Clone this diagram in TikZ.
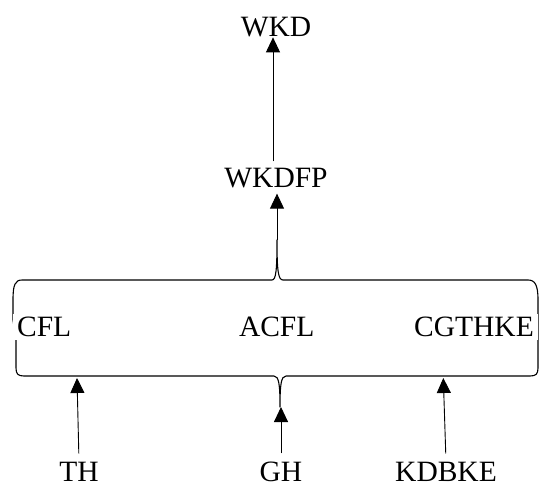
\documentclass[tikz,border=0pt]{standalone}
\usepackage{fontspec}
\setmainfont{Liberation Serif}
\usetikzlibrary{arrows.meta}
\tikzset{
  lbl/.style={font=\fontsize{29.5}{35}\selectfont, inner sep=0pt, anchor=base},
  midlbl/.style={lbl, fill=white, inner xsep=4pt, inner ysep=3pt},
  arr/.style={line width=0.9pt, -{Triangle[length=15pt,width=14pt]}},
  bracket/.style={line width=1.1pt, line join=round}
}
\begin{document}
\begin{tikzpicture}[x=1pt,y=-1pt]
\useasboundingbox (0,0) rectangle (540,489);
% bracket frame
\coordinate (toptip) at (277,240);
\coordinate (bottip) at (280,407);
\draw[bracket] (22,280) -- (272,280) .. controls (276,280) and (277,270) .. (toptip)
  .. controls (277,270) and (278,280) .. (283,280) -- (528,280)
  .. controls (535,280) and (538,285) .. (538,300) -- (538,368)
  .. controls (538,374) and (536,376) .. (530,376) -- (286,376)
  .. controls (281,376) and (280,385) .. (bottip)
  .. controls (280,385) and (279,376) .. (274,376) -- (24,376)
  .. controls (18,376) and (16,374) .. (16,368) -- (16,340) -- (13,320) -- (13,300)
  .. controls (13,285) and (15,280) .. (22,280) -- cycle;
% labels
\node[lbl] (wkd) at (276,36.7) {WKD};
\node[lbl, inner sep=6pt] (wkdfp) at (276,187) {WKDFP};
\node[midlbl] (cfl) at (44.2,336.7) {CFL};
\node[midlbl] (acfl) at (276.7,336.7) {ACFL};
\node[midlbl] (cgthke) at (474,336.7) {CGTHKE};
\node[lbl] (th) at (79,481) {TH};
\node[lbl] (gh) at (281,481) {GH};
\node[lbl] (kdbke) at (446,481) {KDBKE};
% arrow targets
\coordinate (thtip) at (77,378);
\coordinate (ghtip) at (281,407);
\coordinate (kdtip) at (443.3,378);
% connectors
\draw[arr] ([xshift=-3pt]wkdfp.north) -- ([xshift=-3pt]wkd.south);
\draw[arr] (toptip) -- (toptip |- wkdfp.south);
\draw[arr, shorten <=8pt] (th.north) -- (thtip);
\draw[arr, shorten <=8pt] (gh.north) -- (ghtip);
\draw[arr, shorten <=8pt] (kdbke.north) -- (kdtip);
\end{tikzpicture}
\end{document}
